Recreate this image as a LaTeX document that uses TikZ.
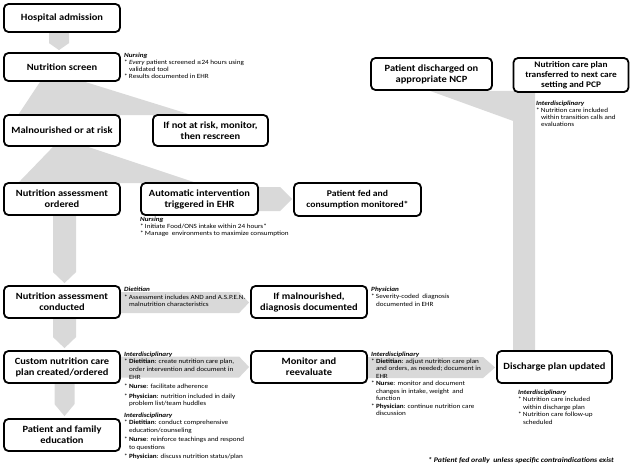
\documentclass[tikz,border=0pt]{standalone}
\usepackage{fontspec}
\setmainfont{Carlito}
\newfontfamily\boxfont[FakeStretch=1.1]{Carlito}
\newfontfamily\annofont[FakeStretch=1.12]{Carlito}
\newfontfamily\symfont{DejaVu Sans}
\usetikzlibrary{calc,backgrounds}
\definecolor{flowgray}{RGB}{217,217,217}
\newcommand\bl{\makebox[0.75em][l]{*}}
\newcommand\ind{\hspace*{0.75em}}
\newcommand\role[1]{\textbf{\textit{#1}}}
% down block arrow: from, to, x offset, half width, head length
\newcommand\downblock[5]{%
  \fill[flowgray] ($(#1.south)+(#3-#4,0)$) -- ($(#1.south)+(#3+#4,0)$)
   -- ($(#1.south |- #2.north)+(#3+#4,-2-#5)$) -- ($(#1.south |- #2.north)+(#3,-2)$)
   -- ($(#1.south |- #2.north)+(#3-#4,-2-#5)$) -- cycle;}
% right block arrow: from, to, y offset, half height, head length
\newcommand\rightblock[5]{%
  \fill[flowgray] ($(#1.east)+(0,#3-#4)$) -- ($(#2.west |- #1.east)+(-1-#5,#3-#4)$)
   -- ($(#2.west |- #1.east)+(-1,#3)$) -- ($(#2.west |- #1.east)+(-1-#5,#3+#4)$)
   -- ($(#1.east)+(0,#3+#4)$) -- cycle;}
\begin{document}
\begin{tikzpicture}[x=1pt,y=-1pt,
  box/.style={draw, fill=white, line width=1.8pt, rounded corners=4.5pt,
    font=\boxfont\fontsize{9.5}{11}\selectfont\bfseries, align=center, inner sep=0pt},
  anno/.style={font=\annofont\fontsize{6.4}{7.3}\selectfont, align=left, anchor=north west, inner sep=0pt},
  foot/.style={font=\annofont\fontsize{7}{7.5}\selectfont\bfseries\itshape, anchor=west, inner sep=0pt}]
\useasboundingbox (0,0) rectangle (630,471);

% boxes
\node[box, minimum width=116pt, minimum height=28pt] (ha) at (62,18) {Hospital admission};
\node[box, minimum width=116pt, minimum height=28pt] (ns) at (62,67) {Nutrition screen};
\node[box, minimum width=116pt, minimum height=31pt] (mr) at (62,130.5) {Malnourished or at risk};
\node[box, minimum width=115pt, minimum height=31pt] (nr) at (210.5,130.5) {If not at risk, monitor,\\ then rescreen};
\node[box, minimum width=116pt, minimum height=32pt] (nao) at (62,199) {Nutrition assessment\\ ordered};
\node[box, minimum width=117pt, minimum height=32pt] (ai) at (199.5,199) {Automatic intervention\\ triggered in EHR};
\node[box, minimum width=127pt, minimum height=33pt, font=\boxfont\fontsize{8.8}{10.8}\selectfont\bfseries] (pf) at (357.5,199.5) {Patient fed and\\ consumption monitored*};
\node[box, minimum width=116pt, minimum height=32pt] (nac) at (62,302) {Nutrition assessment\\ conducted};
\node[box, minimum width=116pt, minimum height=32pt] (im) at (309,302) {If malnourished,\\ diagnosis documented};
\node[box, minimum width=116pt, minimum height=32pt] (cn) at (62,367) {Custom nutrition care\\ plan created/ordered};
\node[box, minimum width=116pt, minimum height=32pt] (mo) at (309,367) {Monitor and\\ reevaluate};
\node[box, minimum width=115pt, minimum height=32pt] (dp) at (554.5,367) {Discharge plan updated};
\node[box, minimum width=116pt, minimum height=32pt] (pe) at (62,435) {Patient and family\\ education};
\node[box, minimum width=121pt, minimum height=32pt] (pd) at (431.5,74) {Patient discharged on\\ appropriate NCP};
\node[box, minimum width=115pt, minimum height=34pt, font=\boxfont\fontsize{8.5}{10}\selectfont\bfseries] (nt) at (571,75) {Nutrition care plan\\ transferred to next care\\ setting and PCP};

% gray block connectors
\begin{scope}[on background layer]
\downblock{ha}{ns}{-3}{10}{7}
\fill[flowgray] ($(ns.south)+(-22,0)$) -- ($(ns.south)+(23,0)$) -- ($(nr.north)+(-18.5,1)$) -- ($(mr.north)+(-44,1)$) -- cycle;
\fill[flowgray] ($(mr.south)+(-9,0)$) -- ($(mr.south)+(26,0)$) -- ($(ai.north)+(-2.5,1)$) -- ($(nao.north)+(-44,1)$) -- cycle;
\rightblock{ai}{pf}{0}{12}{12}
\downblock{nao}{nac}{2.5}{11.5}{11}
\downblock{nac}{cn}{2.5}{11.5}{11}
\downblock{cn}{pe}{2.5}{10}{12}
\rightblock{nac}{im}{0.5}{10.5}{10}
\rightblock{cn}{mo}{0}{10.5}{10}
\rightblock{mo}{dp}{0.5}{10.5}{12}
\fill[flowgray] ($(pd.south)+(-1.5,0)$) -- ($(dp.north |- pd.south)+(-19.5,0)$) -- ($(dp.north)+(-19.5,1)$) -- ($(dp.north)+(-41.5,1)$) -- ($(dp.north |- pd.south)+(-41.5,30)$) -- cycle;
\end{scope}

% annotations
\node[anno, font=\annofont\fontsize{6.4}{7}\selectfont] (a1) at (124,53) {\role{Nursing}\\ \bl\textit{Every} patient screened {\symfont\fontsize{5.5}{7}\selectfont ≤}24 hours using\\ \ind validated tool\\ \bl Results documented in EHR};
\node[anno, font=\annofont\fontsize{6.4}{7}\selectfont] (a2) at (140,216.5) {\role{Nursing}\\ \bl Initiate Food/ONS intake within 24 hours*\\ \bl Manage\ \ environments to maximize consumption};
\node[anno, font=\annofont\fontsize{6.4}{7}\selectfont] (a3) at (536,100.5) {\role{Interdisciplinary}\\ \bl Nutrition care included\\ \ind within transition calls and\\ \ind evaluations};
\node[anno, font=\annofont\fontsize{6.4}{7.6}\selectfont] (a4) at (124,287) {\role{Dietitian}\\ \bl Assessment includes AND and A.S.P.E.N.\\ \ind malnutrition characteristics};
\node[anno, font=\annofont\fontsize{6.4}{7.6}\selectfont] (a5) at (371,286.5) {\role{Physician}\\ \bl Severity-coded\ \ diagnosis\\ \ind documented in EHR};
\node[anno, font=\annofont\fontsize{6.4}{7.7}\selectfont] (a6) at (124,351.5) {\role{Interdisciplinary}\\ \bl\textbf{Dietitian}: create nutrition care plan,\\ \ind order intervention and document in\\ \ind EHR\\[1.8pt] \bl\textbf{Nurse}: facilitate adherence\\[1.8pt] \bl\textbf{Physician}: nutrition included in daily\\ \ind problem list/team huddles\\[3.5pt] \role{Interdisciplinary}\\ \bl\textbf{Dietitian}: conduct comprehensive\\ \ind education/counseling\\[1.2pt] \bl\textbf{Nurse}: reinforce teachings and respond\\ \ind to questions\\[1.8pt] \bl\textbf{Physician}: discuss nutrition status/plan};
\node[anno, font=\annofont\fontsize{6.4}{7.3}\selectfont] (a7) at (371,351.5) {\role{Interdisciplinary}\\ \bl\textbf{Dietitian}: adjust nutrition care plan\\ \ind and orders, as needed; document in\\ \ind EHR\\[0.5pt] \bl\textbf{Nurse}: monitor and document\\ \ind changes in intake, weight\ \ and\\ \ind function\\[0.5pt] \bl\textbf{Physician}: continue nutrition care\\ \ind discussion};
\node[anno, font=\annofont\fontsize{6.4}{7.5}\selectfont] (a8) at (518,389.5) {\role{Interdisciplinary}\\ \bl Nutrition care included\\ \ind within discharge plan\\ \bl Nutrition care follow-up\\ \ind scheduled};
\node[foot] (fn) at (428,461) {* Patient fed orally\ \ unless specific contraindications exist};
\end{tikzpicture}
\end{document}
